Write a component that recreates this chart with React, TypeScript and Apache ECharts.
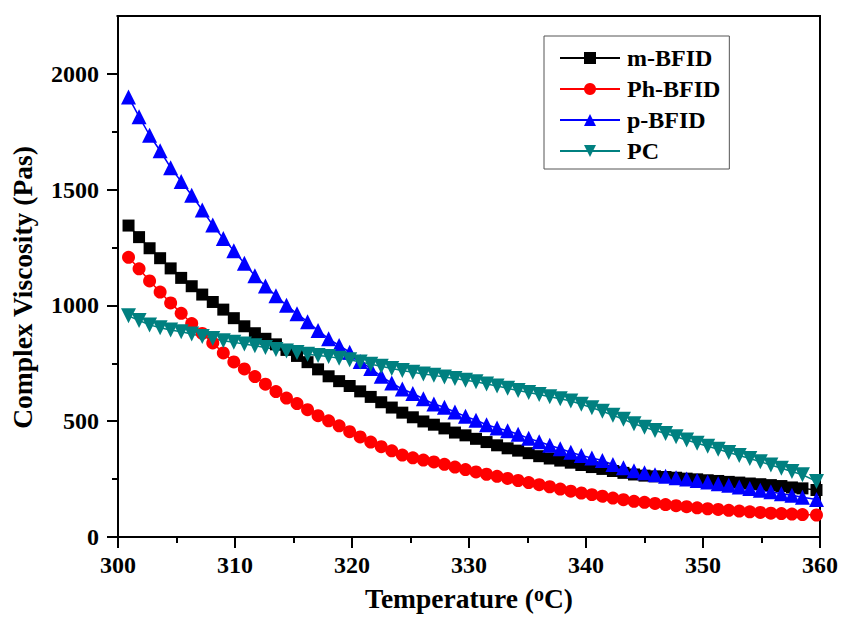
import React, { useEffect, useRef } from "react";
import * as echarts from "echarts";

const temperature = [
  300.9, 301.8, 302.7, 303.6, 304.5, 305.4, 306.3, 307.2, 308.1, 309.0,
  309.9, 310.8, 311.7, 312.6, 313.5, 314.4, 315.3, 316.2, 317.1, 318.0,
  318.9, 319.8, 320.7, 321.6, 322.5, 323.4, 324.3, 325.2, 326.1, 327.0,
  327.9, 328.8, 329.7, 330.6, 331.5, 332.4, 333.3, 334.2, 335.1, 336.0,
  336.9, 337.8, 338.7, 339.6, 340.5, 341.4, 342.3, 343.2, 344.1, 345.0,
  345.9, 346.8, 347.7, 348.6, 349.5, 350.4, 351.3, 352.2, 353.1, 354.0,
  354.9, 355.8, 356.7, 357.6, 358.5, 359.7,
];

const mBFID = [
  1345, 1295, 1247, 1204, 1160, 1119, 1083, 1047, 1015, 982,
  945, 910, 880, 856, 832, 808, 782, 755, 724, 694,
  673, 652, 629, 605, 582, 559, 537, 517, 499, 485,
  469, 451, 439, 424, 410, 396, 383, 373, 362, 349,
  339, 330, 321, 311, 302, 294, 285, 277, 270, 265,
  262, 259, 256, 252, 249, 245, 242, 238, 235, 231,
  228, 224, 220, 214, 210, 203,
];

const phBFID = [
  1208, 1158, 1106, 1058, 1011, 966, 922, 879, 838, 795,
  756, 726, 693, 660, 628, 600, 576, 550, 524, 502,
  480, 455, 432, 410, 390, 372, 354, 342, 332, 324,
  314, 302, 291, 281, 271, 262, 253, 244, 235, 226,
  217, 207, 198, 190, 183, 176, 168, 161, 154, 150,
  145, 140, 135, 131, 126, 122, 119, 115, 112, 109,
  106, 103, 101, 99, 97, 95,
];

const pBFID = [
  1900, 1815, 1735, 1668, 1595, 1535, 1476, 1412, 1347, 1289,
  1236, 1182, 1128, 1084, 1042, 1001, 964, 930, 892, 856,
  827, 798, 758, 728, 694, 665, 639, 620, 597, 574,
  560, 540, 521, 504, 485, 471, 459, 444, 426, 411,
  396, 381, 366, 352, 341, 330, 313, 299, 286, 277,
  269, 262, 256, 250, 244, 237, 230, 223, 216, 209,
  202, 195, 187, 180, 172, 162,
];

const PC = [
  955, 935, 916, 904, 894, 886, 877, 866, 857, 848,
  841, 833, 826, 818, 810, 803, 797, 789, 784, 779,
  772, 765, 756, 746, 737, 728, 719, 711, 704, 698,
  691, 684, 677, 670, 661, 652, 642, 633, 624, 615,
  606, 597, 587, 573, 558, 543, 526, 508, 489, 474,
  460, 447, 433, 419, 405, 392, 379, 365, 352, 339,
  325, 311, 297, 283, 269, 240,
];

const seriesNames = ["m-BFID", "Ph-BFID", "p-BFID", "PC"];
const xTickValues = [300, 310, 320, 330, 340, 350, 360];
const yTickValues = [0, 500, 1000, 1500, 2000];

const FONT = "'Liberation Serif', 'Times New Roman', serif";

export default function App() {
  const ref = useRef<HTMLDivElement>(null);

  useEffect(() => {
    if (!ref.current) return;
    const chart = echarts.init(ref.current, null, { renderer: "svg" });

    const pair = (vals: number[]) => temperature.map((t, i) => [t, vals[i]]);

    const mkSeries = (
      name: string,
      vals: number[],
      color: string,
      symbol: string,
      size: number,
      rotate = 0
    ) => ({
      name,
      type: "line",
      data: pair(vals),
      symbol,
      symbolSize: size,
      symbolRotate: rotate,
      showAllSymbol: true,
      clip: false,
      lineStyle: { color, width: 1.5 },
      itemStyle: { color, borderWidth: 0 },
    });

    chart.setOption({
      animation: false,
      backgroundColor: "#ffffff",
      grid: {
        left: 118,
        right: 22,
        top: 16,
        bottom: 82,
        show: true,
        borderColor: "#000",
        borderWidth: 2,
        backgroundColor: "transparent",
      },
      legend: {
        orient: "vertical",
        left: 544,
        top: 36,
        data: seriesNames,
        itemWidth: 60,
        itemHeight: 15,
        itemGap: 7,
        padding: [10, 9, 6, 15],
        borderColor: "#555",
        borderWidth: 1,
        textStyle: {
          fontFamily: FONT,
          fontWeight: "bold",
          fontSize: 24,
          color: "#000",
          padding: [0, 0, 0, 2],
        },
      },
      xAxis: {
        type: "value",
        min: 300,
        max: 360,
        interval: 10,
        name: "Temperature ({sup|o}C)",
        nameLocation: "middle",
        nameGap: 47,
        nameTextStyle: {
          fontFamily: FONT,
          fontWeight: "bold",
          fontSize: 27.5,
          lineHeight: 28,
          color: "#000",
          rich: {
            sup: {
              fontFamily: FONT,
              fontWeight: "bold",
              fontSize: 20,
              lineHeight: 6,
              color: "#000",
              verticalAlign: "top",
            },
          },
        },
        axisLine: { show: true, onZero: false, lineStyle: { color: "#000", width: 2 } },
        axisTick: { show: true, inside: false, length: 11, lineStyle: { color: "#000", width: 2 } },
        minorTick: { show: true, splitNumber: 2, length: 6, lineStyle: { color: "#000", width: 2 } },
        splitLine: { show: false },
        axisLabel: {
          margin: 16,
          fontFamily: FONT,
          fontWeight: "bold",
          fontSize: 24,
          color: "#000",
          formatter: (v: number) => (xTickValues.includes(v) ? String(v) : ""),
        },
      },
      yAxis: {
        type: "value",
        min: 0,
        max: 2250,
        interval: 500,
        name: "Complex Viscosity (Pas)",
        nameLocation: "middle",
        nameRotate: 90,
        nameGap: 82,
        nameTextStyle: {
          fontFamily: FONT,
          fontWeight: "bold",
          fontSize: 27.5,
          color: "#000",
          padding: [0, 22, 0, 0],
        },
        axisLine: { show: true, onZero: false, lineStyle: { color: "#000", width: 2 } },
        axisTick: { show: true, inside: false, length: 11, lineStyle: { color: "#000", width: 2 } },
        minorTick: { show: true, splitNumber: 2, length: 6, lineStyle: { color: "#000", width: 2 } },
        splitLine: { show: false },
        axisLabel: {
          margin: 19,
          fontFamily: FONT,
          fontWeight: "bold",
          fontSize: 24,
          color: "#000",
          formatter: (v: number) => (yTickValues.includes(v) ? String(v) : ""),
        },
      },
      graphic: [
        {
          type: "rect",
          left: 96,
          top: 4,
          shape: { width: 20.5, height: 50 },
          style: { fill: "#ffffff" },
          z: 100,
        },
      ],
      series: [
        mkSeries("m-BFID", mBFID, "#000000", "rect", 12),
        mkSeries("Ph-BFID", phBFID, "#ff0000", "circle", 13),
        mkSeries("p-BFID", pBFID, "#0000ff", "triangle", 15),
        mkSeries("PC", PC, "#008080", "triangle", 15, 180),
      ],
    });

    return () => chart.dispose();
  }, []);

  return (
    <div
      ref={ref}
      style={{ position: "absolute", left: 0, top: 0, width: 842, height: 619, background: "#fff" }}
    />
  );
}
